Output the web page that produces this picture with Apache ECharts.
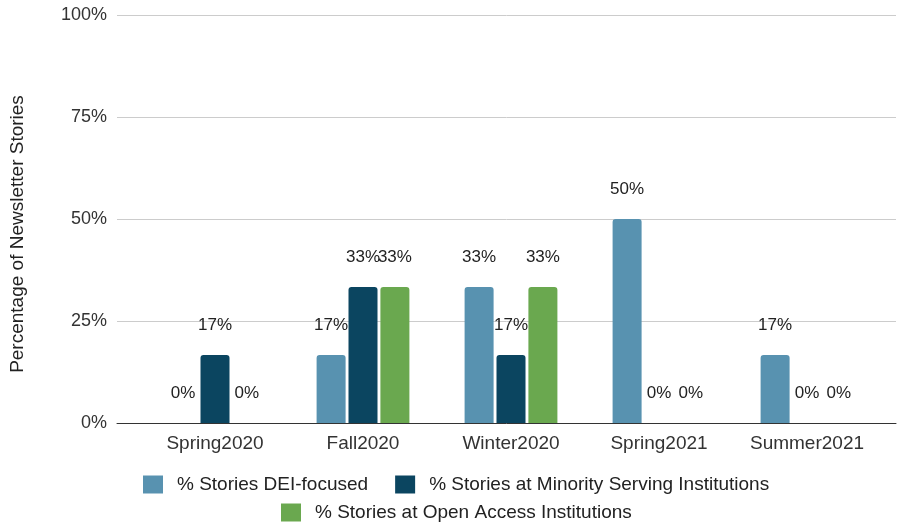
<!DOCTYPE html>
<html>
<head>
<meta charset="utf-8">
<script src="https://cdn.jsdelivr.net/npm/echarts@6/dist/echarts.min.js"></script>
<style>html,body{margin:0;padding:0;background:#fff}#c{width:898px;height:524px}</style>
</head>
<body>
<div id="c"></div>
<script>
const categories = ['Spring2020', 'Fall2020', 'Winter2020', 'Spring2021', 'Summer2021'];
const seriesNames = ['% Stories DEI-focused', '% Stories at Minority Serving Institutions', '% Stories at Open Access Institutions'];
const deiValues = [0, 16.67, 33.33, 50, 16.67];
const msiValues = [16.67, 33.33, 16.67, 0, 0];
const oaValues = [0, 33.33, 33.33, 0, 0];
const yTicks = [0, 25, 50, 75, 100];
const colors = ['#5892b0', '#0b4560', '#6aa84f'];

const FONT = "'Liberation Sans', Arial, sans-serif";
const chart = echarts.init(document.getElementById('c'), null, {renderer: 'canvas'});

function barSeries(name, data, color) {
  return {
    name: name,
    type: 'bar',
    xAxisIndex: 1,
    yAxisIndex: 1,
    data: data,
    barWidth: 29,
    barGap: '10%',
    itemStyle: {color: color, borderRadius: [3, 3, 0, 0]},
    label: {
      show: true,
      position: 'top',
      distance: 21,
      color: '#222',
      fontFamily: FONT,
      fontSize: 17,
      formatter: p => Math.round(p.value) + '%'
    }
  };
}

const legendCommon = {
  icon: 'rect', itemWidth: 20, itemHeight: 18, itemGap: 27, padding: 0,
  textStyle: {fontSize: 19, color: '#222', fontFamily: FONT, padding: [0, 0, 0, 9]}
};

chart.setOption({
  backgroundColor: '#fff',
  animation: false,
  textStyle: {fontFamily: FONT},
  legend: [
    Object.assign({data: seriesNames.slice(0, 2), left: 143, top: 475}, legendCommon),
    Object.assign({data: seriesNames.slice(2), left: 281, top: 503}, legendCommon)
  ],
  grid: [
    {left: 115, right: 2, top: 15, bottom: 101},
    {left: 141, right: 17, top: 15, bottom: 101}
  ],
  xAxis: [
    {
      gridIndex: 0, type: 'value', min: 0, max: 1,
      axisLine: {show: true, lineStyle: {color: '#333', width: 1}},
      axisTick: {show: false}, axisLabel: {show: false}, splitLine: {show: false}
    },
    {
      gridIndex: 1, type: 'category', data: categories,
      axisLine: {show: false}, axisTick: {show: false},
      axisLabel: {interval: 0, hideOverlap: false, margin: 11, fontSize: 19, color: '#333', fontFamily: FONT}
    }
  ],
  yAxis: [
    {
      gridIndex: 0, type: 'value', min: yTicks[0], max: yTicks[yTicks.length - 1], interval: 25,
      name: 'Percentage of Newsletter Stories',
      nameLocation: 'middle', nameGap: 90, nameRotate: 90,
      nameTextStyle: {fontSize: 19, color: '#222', fontFamily: FONT, padding: [0, 30, 0, 0]},
      axisLine: {show: false}, axisTick: {show: false},
      axisLabel: {margin: 10, fontSize: 18, color: '#333', fontFamily: FONT, formatter: '{value}%'},
      splitLine: {lineStyle: {color: '#cccccc', width: 1}}
    },
    {
      gridIndex: 1, type: 'value', min: yTicks[0], max: yTicks[yTicks.length - 1], show: false,
      splitLine: {show: false}
    }
  ],
  series: [
    barSeries(seriesNames[0], deiValues, colors[0]),
    barSeries(seriesNames[1], msiValues, colors[1]),
    barSeries(seriesNames[2], oaValues, colors[2])
  ]
});
</script>
</body>
</html>
